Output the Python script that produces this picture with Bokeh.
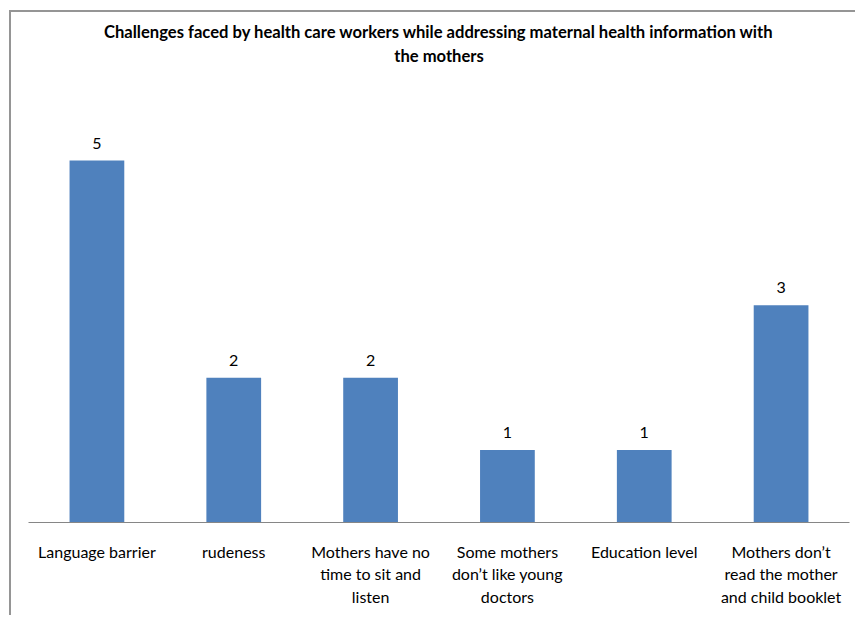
from bokeh.plotting import figure
from bokeh.models import ColumnDataSource, FactorRange, Range1d, LabelSet, Title
from bokeh.core.properties import value
from bokeh.embed import file_html
from bokeh.resources import INLINE

categories = ["Language barrier", "rudeness", "Mothers have no\ntime to sit and\nlisten",
              "Some mothers\ndon\u2019t like young\ndoctors", "Education level",
              "Mothers don\u2019t\nread the mother\nand child booklet"]
values = [5, 2, 2, 1, 1, 3]
value_labels = [str(v) for v in values]
title_lines = ["Challenges faced by health care workers while addressing maternal health information with",
               "the mothers"]

FONT = "Lato"
src = ColumnDataSource(dict(cat=categories, val=values, lab=value_labels))

p = figure(width=846, height=605, x_range=FactorRange(*categories, range_padding=0),
           y_range=Range1d(0, 6.3), output_backend="svg", toolbar_location=None,
           min_border_left=17, min_border_right=8, min_border_top=54, min_border_bottom=95,
           styles={"margin-left": "9px", "margin-top": "10px",
                   "border-left": "2px solid #959595", "border-top": "2px solid #959595"})
p.title.visible = False
p.add_layout(Title(text=title_lines[1], align="center", text_font=FONT, text_font_size="16.6px",
                   text_font_style="bold", text_color="#000000", standoff=2), "above")
p.add_layout(Title(text=title_lines[0], align="center", text_font=FONT, text_font_size="16.6px",
                   text_font_style="bold", text_color="#000000", standoff=2), "above")

p.vbar(x="cat", top="val", width=0.4, source=src, fill_color="#4F81BD", line_color=None)
p.add_layout(LabelSet(x="cat", y="val", text="lab", source=src, text_align="center",
                      text_baseline="bottom", y_offset=12, text_font=value(FONT),
                      text_font_size="16px", text_color="#000000"))

p.xgrid.visible = False
p.ygrid.visible = False
p.yaxis.visible = False
p.outline_line_color = None
p.xaxis.axis_line_color = "#868686"
p.xaxis.major_tick_line_color = None
p.xaxis.minor_tick_line_color = None
p.xaxis.major_label_text_font = FONT
p.xaxis.major_label_text_font_size = "16px"
p.xaxis.major_label_text_color = "#000000"
p.xaxis.major_label_standoff = 13

open("out.html", "w").write(file_html(p, INLINE))
